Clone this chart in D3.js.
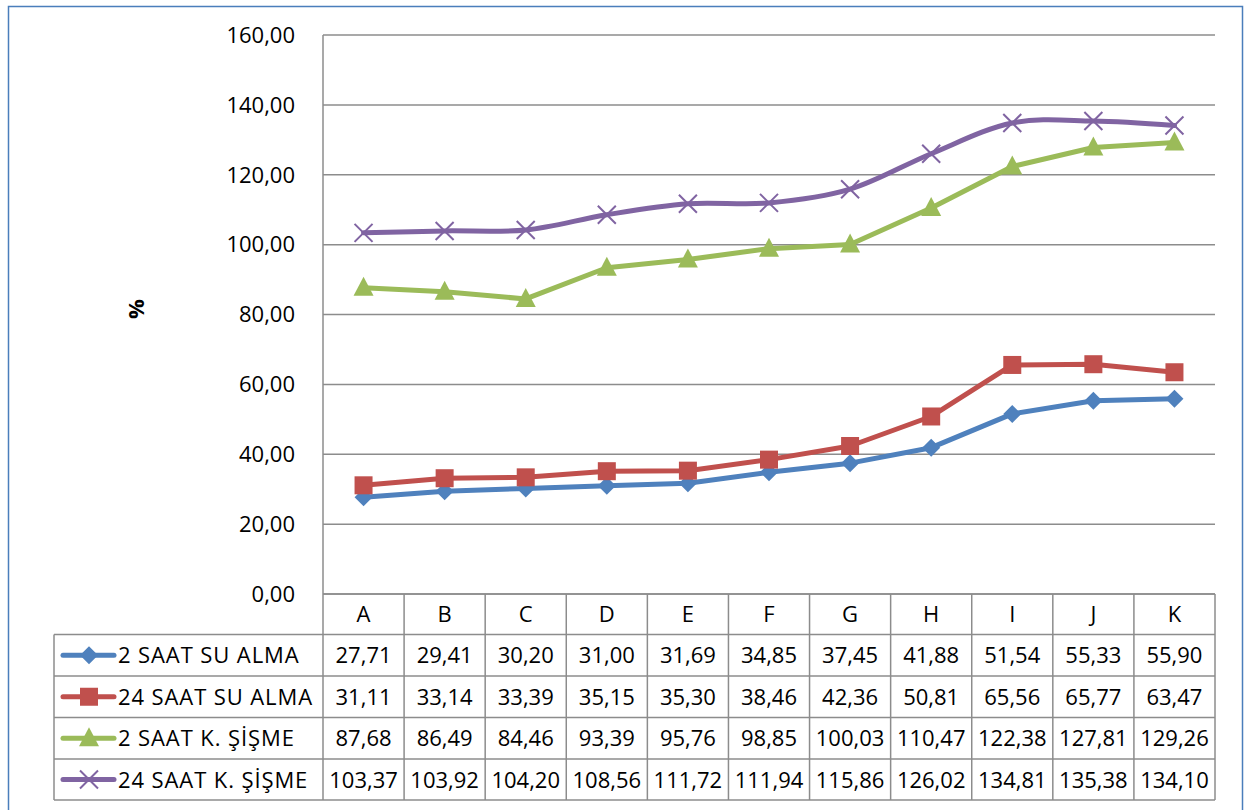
<!DOCTYPE html>
<html>
<head>
<meta charset="utf-8">
<script src="https://cdn.jsdelivr.net/npm/d3@7"></script>
<style>
  html, body { margin: 0; padding: 0; background: #fff; }
  svg { display: block; font-family: "Open Sans", sans-serif; }
</style>
</head>
<body>
<svg id="chart" width="1249" height="810"></svg>
<script>
// Categories and series
const categories = ["A", "B", "C", "D", "E", "F", "G", "H", "I", "J", "K"];
const seriesNames = ["2 SAAT SU ALMA", "24 SAAT SU ALMA", "2 SAAT K. ŞİŞME", "24 SAAT K. ŞİŞME"];
const su2 = [27.71, 29.41, 30.20, 31.00, 31.69, 34.85, 37.45, 41.88, 51.54, 55.33, 55.90];
const su24 = [31.11, 33.14, 33.39, 35.15, 35.30, 38.46, 42.36, 50.81, 65.56, 65.77, 63.47];
const sisme2 = [87.68, 86.49, 84.46, 93.39, 95.76, 98.85, 100.03, 110.47, 122.38, 127.81, 129.26];
const sisme24 = [103.37, 103.92, 104.20, 108.56, 111.72, 111.94, 115.86, 126.02, 134.81, 135.38, 134.10];
const yTicks = [0, 20, 40, 60, 80, 100, 120, 140, 160];

const colors = ["#4F81BD", "#C0504D", "#9BBB59", "#8064A2"];
const markers = ["diamond", "square", "triangle", "cross"];
const smooth = [false, false, false, true];
const values = [su2, su24, sisme2, sisme24];

const fmt = v => v.toFixed(2).replace(".", ",");
const FS = 22;

const svg = d3.select("#chart");
const plot = { left: 323, right: 1215, top: 35, bottom: 594 };
const tableLeft = 54;
const rowEdges = [594, 634.5, 676, 717.5, 759, 800];

// Outer frame
svg.append("rect").attr("x", 8.5).attr("y", 6.5).attr("width", 1234).attr("height", 820)
  .attr("fill", "none").attr("stroke", "#4A7EBB").attr("stroke-width", 1.5);

const x = d3.scaleBand().domain(categories).range([plot.left, plot.right]).padding(0);
const y = d3.scaleLinear().domain([0, 160]).range([plot.bottom, plot.top]);

const grid = "#8C8C8C";

// Horizontal gridlines
svg.append("g").selectAll("line").data(yTicks).join("line")
  .attr("x1", plot.left).attr("x2", plot.right)
  .attr("y1", d => y(d)).attr("y2", d => y(d))
  .attr("stroke", grid).attr("stroke-width", 1.5);

// Value axis
const yAxis = svg.append("g").attr("transform", `translate(${plot.left},0)`)
  .call(d3.axisLeft(y).tickValues(yTicks).tickFormat(fmt).tickSize(0).tickPadding(28));
yAxis.select(".domain").remove();
yAxis.selectAll("text").attr("font-size", FS).attr("fill", "#000")
  .attr("font-family", "'Open Sans', sans-serif").attr("dy", "0.33em");
svg.append("line").attr("x1", plot.left).attr("x2", plot.left)
  .attr("y1", plot.top).attr("y2", rowEdges[5])
  .attr("stroke", grid).attr("stroke-width", 1.5);

// Axis title
svg.append("text").attr("transform", "translate(144,309) rotate(-90)")
  .attr("text-anchor", "middle").attr("font-size", FS).attr("font-weight", "bold").text("%");

// Data table grid
const tg = svg.append("g");
rowEdges.forEach((ry, i) => {
  tg.append("line")
    .attr("x1", i === 0 ? plot.left : tableLeft).attr("x2", plot.right)
    .attr("y1", ry).attr("y2", ry)
    .attr("stroke", grid).attr("stroke-width", 1.5);
});
tg.append("line").attr("x1", tableLeft).attr("x2", tableLeft)
  .attr("y1", rowEdges[1]).attr("y2", rowEdges[5]).attr("stroke", grid).attr("stroke-width", 1.5);
categories.forEach(c => {
  tg.append("line").attr("x1", x(c) + x.bandwidth()).attr("x2", x(c) + x.bandwidth())
    .attr("y1", rowEdges[0]).attr("y2", rowEdges[5]).attr("stroke", grid).attr("stroke-width", 1.5);
});

// Category headers
svg.append("g").selectAll("text").data(categories).join("text")
  .attr("x", d => x(d) + x.bandwidth() / 2)
  .attr("y", (rowEdges[0] + rowEdges[1]) / 2 + 8)
  .attr("text-anchor", "middle").attr("font-size", FS).text(d => d);

// Marker shapes
function drawMarker(g, type, color, cx, cy) {
  if (type === "diamond") {
    g.append("path").attr("d", `M${cx},${cy - 9}L${cx + 9},${cy}L${cx},${cy + 9}L${cx - 9},${cy}Z`).attr("fill", color);
  } else if (type === "square") {
    g.append("rect").attr("x", cx - 9).attr("y", cy - 9).attr("width", 18).attr("height", 18).attr("fill", color);
  } else if (type === "triangle") {
    g.append("path").attr("d", `M${cx},${cy - 11}L${cx + 10},${cy + 8}L${cx - 10},${cy + 8}Z`).attr("fill", color);
  } else {
    g.append("path").attr("d", `M${cx - 9},${cy - 9}L${cx + 9},${cy + 9}M${cx - 9},${cy + 9}L${cx + 9},${cy - 9}`)
      .attr("stroke", color).attr("stroke-width", 2).attr("fill", "none");
  }
}

// Series lines and markers
values.forEach((vals, si) => {
  const g = svg.append("g");
  const line = d3.line()
    .x((d, i) => x(categories[i]) + x.bandwidth() / 2)
    .y(d => y(d))
    .curve(smooth[si] ? d3.curveCardinal.tension(0) : d3.curveLinear);
  g.append("path").attr("d", line(vals)).attr("fill", "none")
    .attr("stroke", colors[si]).attr("stroke-width", 5).attr("stroke-linejoin", "round").attr("stroke-linecap", "round");
  vals.forEach((v, i) => drawMarker(g, markers[si], colors[si], x(categories[i]) + x.bandwidth() / 2, y(v)));
});

// Table rows: legend keys, names and values
values.forEach((vals, si) => {
  const midY = (rowEdges[si + 1] + rowEdges[si + 2]) / 2;
  const g = svg.append("g");
  g.append("line").attr("x1", 63).attr("x2", 114).attr("y1", midY).attr("y2", midY)
    .attr("stroke", colors[si]).attr("stroke-width", 5).attr("stroke-linecap", "round");
  drawMarker(g, markers[si], colors[si], 89, midY);
  g.append("text").attr("x", 118).attr("y", midY + 8).attr("font-size", FS)
    .attr("letter-spacing", 0.9).text(seriesNames[si]);
  g.selectAll("text.v").data(vals).join("text").attr("class", "v")
    .attr("x", (d, i) => x(categories[i]) + x.bandwidth() / 2)
    .attr("y", midY + 8).attr("text-anchor", "middle").attr("font-size", FS)
    .text(d => fmt(d));
});
</script>
</body>
</html>
